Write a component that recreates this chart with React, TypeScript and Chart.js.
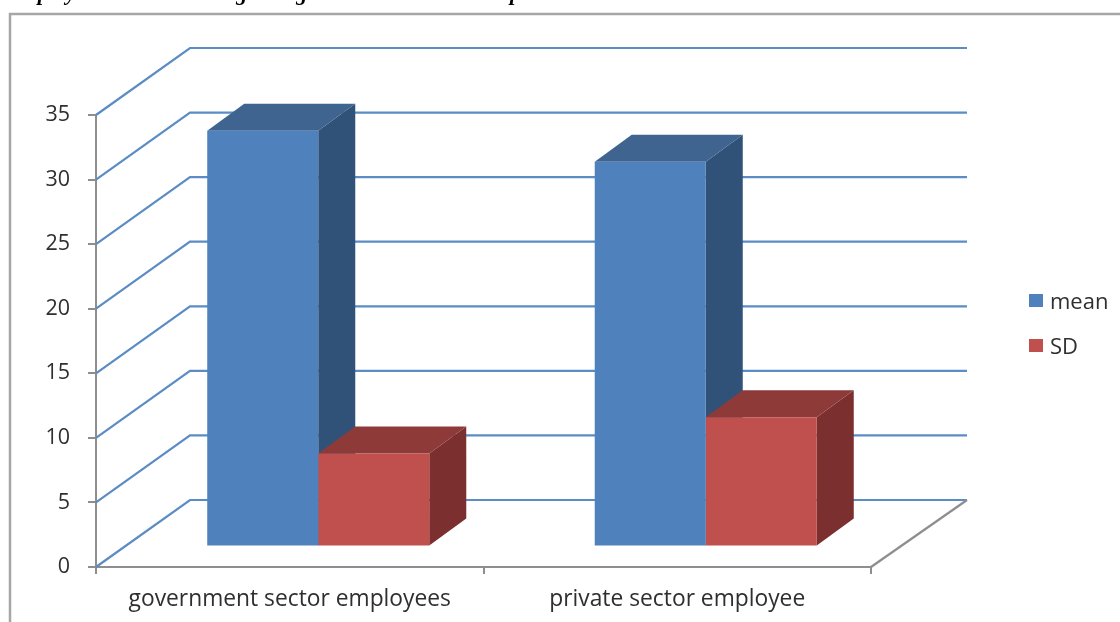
import React, { useEffect, useRef } from "react";
import { Chart, registerables } from "chart.js";

Chart.register(...registerables);

const categories = ["government sector employees", "private sector employee"];
const meanValues = [32.2, 29.8];
const sdValues = [7.2, 10.0];

const seriesNames = ["mean", "SD"];
const frontColors = ["#4F81BD", "#C0504D"];
const topColors = ["#3E648F", "#8E3A38"];
const sideColors = ["#315278", "#7B302F"];

const headingWords = ["Employees", "regarding", "p"];
const headingLefts = [6, 218, 510];

const FONT = '"Open Sans", sans-serif';
const AXIS_GREY = "#8E8E8E";
const TEXT = "#2F2F2F";

// Oblique offsets of the 3D look: back wall, bar front plane, bar depth.
const WALL = { dx: 94, dy: -67, rightDx: 96 };
const FRONT = { dx: 28.5, dy: -20.5 };
const DEPTH = { dx: 37, dy: -27 };

const poly = (ctx: CanvasRenderingContext2D, pts: number[][], fill: string) => {
  ctx.beginPath();
  pts.forEach(([x, y], i) => (i ? ctx.lineTo(x, y) : ctx.moveTo(x, y)));
  ctx.closePath();
  ctx.fillStyle = fill;
  ctx.fill();
};

const perspective = {
  id: "perspective",
  beforeDatasetsDraw(chart: any) {
    const { ctx, chartArea, scales } = chart;
    ctx.save();

    // Back wall gridlines with their diagonals along the left side wall.
    ctx.strokeStyle = "#5B8CC4";
    ctx.lineWidth = 2.2;
    for (const tick of scales.y.ticks) {
      const y = scales.y.getPixelForValue(tick.value);
      ctx.beginPath();
      ctx.moveTo(chartArea.left, y);
      ctx.lineTo(chartArea.left + WALL.dx, y + WALL.dy);
      ctx.lineTo(chartArea.right + WALL.rightDx, y + WALL.dy);
      ctx.stroke();
    }

    // Right edge of the floor.
    ctx.strokeStyle = AXIS_GREY;
    ctx.beginPath();
    ctx.moveTo(chartArea.right, chartArea.bottom);
    ctx.lineTo(chartArea.right + WALL.rightDx, chartArea.bottom + WALL.dy);
    ctx.stroke();

    // Top and side faces of each bar, group by group and series by series.
    categories.forEach((_, c) => {
      seriesNames.forEach((_s, d) => {
        const bar = chart.getDatasetMeta(d).data[c];
        const l = bar.x - bar.width / 2 + FRONT.dx;
        const r = bar.x + bar.width / 2 + FRONT.dx;
        const t = bar.y + FRONT.dy;
        const b = bar.base + FRONT.dy;
        poly(ctx, [[r, t], [r + DEPTH.dx, t + DEPTH.dy], [r + DEPTH.dx, b + DEPTH.dy], [r, b]], sideColors[d]);
        poly(ctx, [[l, t], [l + DEPTH.dx, t + DEPTH.dy], [r + DEPTH.dx, t + DEPTH.dy], [r, t]], topColors[d]);
      });
    });
    ctx.restore();

    // Front faces are the chart's own bars, shifted onto their plane.
    ctx.save();
    ctx.translate(FRONT.dx, FRONT.dy);
  },
  afterDatasetsDraw(chart: any) {
    const { ctx, chartArea } = chart;
    ctx.restore();

    // Legend keys and names.
    ctx.save();
    const keyX = chartArea.right + 158;
    const rows = [chartArea.top + 179, chartArea.top + 224];
    ctx.font = `22px ${FONT}`;
    ctx.textBaseline = "middle";
    seriesNames.forEach((name, i) => {
      ctx.fillStyle = frontColors[i];
      ctx.fillRect(keyX, rows[i], 14, 13);
      ctx.fillStyle = TEXT;
      ctx.fillText(name, keyX + 21, rows[i] + 8.5);
    });

    // Outer frame, open on the right and at the bottom.
    ctx.strokeStyle = "#A6A6A6";
    ctx.lineWidth = 2.5;
    ctx.beginPath();
    ctx.moveTo(10, 622);
    ctx.lineTo(10, 14);
    ctx.lineTo(1120, 14);
    ctx.stroke();

    // Line of the page heading above the frame.
    ctx.fillStyle = "#000";
    ctx.font = 'italic bold 22px "Liberation Serif", serif';
    ctx.textBaseline = "alphabetic";
    headingWords.forEach((w, i) => ctx.fillText(w, headingLefts[i], -0.5));
    ctx.restore();
  },
};

export default function App() {
  const ref = useRef<HTMLCanvasElement>(null);

  useEffect(() => {
    document.body.style.margin = "0";
    const chart = new Chart(ref.current!, {
      type: "bar",
      data: {
        labels: categories,
        datasets: [meanValues, sdValues].map((data, i) => ({
          label: seriesNames[i],
          data,
          backgroundColor: frontColors[i],
          borderWidth: 0,
          categoryPercentage: 0.573,
          barPercentage: 1,
          clip: false as any,
        })),
      },
      options: {
        responsive: false,
        animation: false,
        layout: { padding: { top: 115, right: 249, left: 0, bottom: 0 } },
        plugins: { legend: { display: false }, title: { display: false }, tooltip: { enabled: false } },
        scales: {
          x: {
            afterFit: (s: any) => { s.height = 55; },
            grid: { offset: true, drawOnChartArea: false, color: AXIS_GREY, lineWidth: 2, tickLength: 7 },
            border: { color: AXIS_GREY, width: 2 },
            ticks: { color: TEXT, font: { family: FONT, size: 22.8 }, padding: 12, maxRotation: 0 },
          },
          y: {
            min: 0,
            max: 35,
            afterFit: (s: any) => { s.width = 96; },
            grid: { drawOnChartArea: false, color: AXIS_GREY, lineWidth: 2, tickLength: 8 },
            border: { color: AXIS_GREY, width: 2 },
            ticks: { stepSize: 5, color: TEXT, font: { family: FONT, size: 21.5 }, padding: 18 },
          },
        },
      },
      plugins: [perspective],
    });
    return () => chart.destroy();
  }, []);

  return <canvas ref={ref} width={1120} height={622} style={{ display: "block" }} />;
}
